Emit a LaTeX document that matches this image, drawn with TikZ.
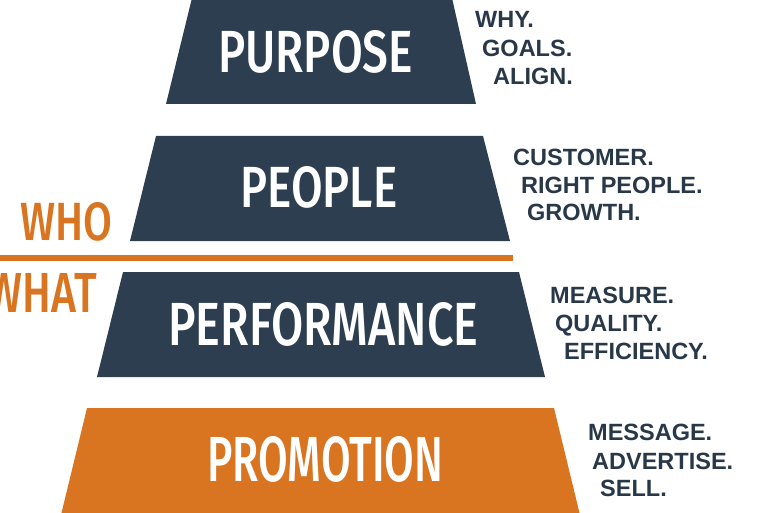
\documentclass[tikz,border=0pt]{standalone}
\usepackage{fontspec}
\setmainfont{Liberation Sans}
\newfontfamily\bigfont{Fira Sans}[UprightFont={* Medium}]
\usepackage{graphicx}
\definecolor{navy}{RGB}{44,62,80}
\definecolor{orng}{RGB}{217,116,32}
\definecolor{txt}{RGB}{40,56,72}
\begin{document}
\begin{tikzpicture}[x=1pt,y=-1pt,
  big/.style={text=white, inner sep=0pt, anchor=north west, font=\bigfont},
  tag/.style={text=orng, inner sep=0pt, anchor=north west, font=\bigfont},
  side/.style={text=txt, inner sep=0pt, anchor=base west, font=\fontsize{23.5}{28}\selectfont\bfseries}]
\useasboundingbox (0,0) rectangle (768,513);
% tiers
\fill[navy] (192,-2) -- (452,-2) -- (476,104) -- (166,104) -- cycle;
\fill[navy] (156,136) -- (483,136) -- (510,241) -- (130,241) -- cycle;
\fill[navy] (123,272) -- (519,272) -- (545,377) -- (97,377) -- cycle;
\fill[orng] (87,408) -- (554,408) -- (580,515) -- (61,515) -- cycle;
% divider
\coordinate (lineL) at (-2,258);
\coordinate (lineR) at (513,258);
\draw[orng, line width=6.5pt] (lineL) -- (lineR);
% tier labels
\node[big] (purpose) at (218,30) {\resizebox{195pt}{42pt}{PURPOSE}};
\node[big] (people) at (240,166) {\resizebox{157pt}{41pt}{PEOPLE}};
\node[big] (performance) at (168,302) {\resizebox{310pt}{43pt}{PERFORMANCE}};
\node[big] (promotion) at (207,436) {\resizebox{236pt}{45pt}{PROMOTION}};
% who / what
\node[tag] (who) at (20,202) {\resizebox{92pt}{38pt}{WHO}};
\node[tag, anchor=north east] (what) at (97,273) {\resizebox{110pt}{39pt}{WHAT}};
% side notes
\node[side] (why) at (475,28) {WHY.};
\node[side] (goals) at (482,57) {GOALS.};
\node[side] (align) at (493,85) {ALIGN.};
\node[side] (customer) at (513,166) {CUSTOMER.};
\node[side] (right) at (521,194) {RIGHT PEOPLE.};
\node[side] (growth) at (527,221) {GROWTH.};
\node[side] (measure) at (550,303) {MEASURE.};
\node[side] (quality) at (555,331) {QUALITY.};
\node[side] (efficiency) at (564,359) {EFFICIENCY.};
\node[side] (message) at (588,440) {MESSAGE.};
\node[side] (advertise) at (592,469) {ADVERTISE.};
\node[side] (sell) at (600,496) {SELL.};
\end{tikzpicture}
\end{document}
